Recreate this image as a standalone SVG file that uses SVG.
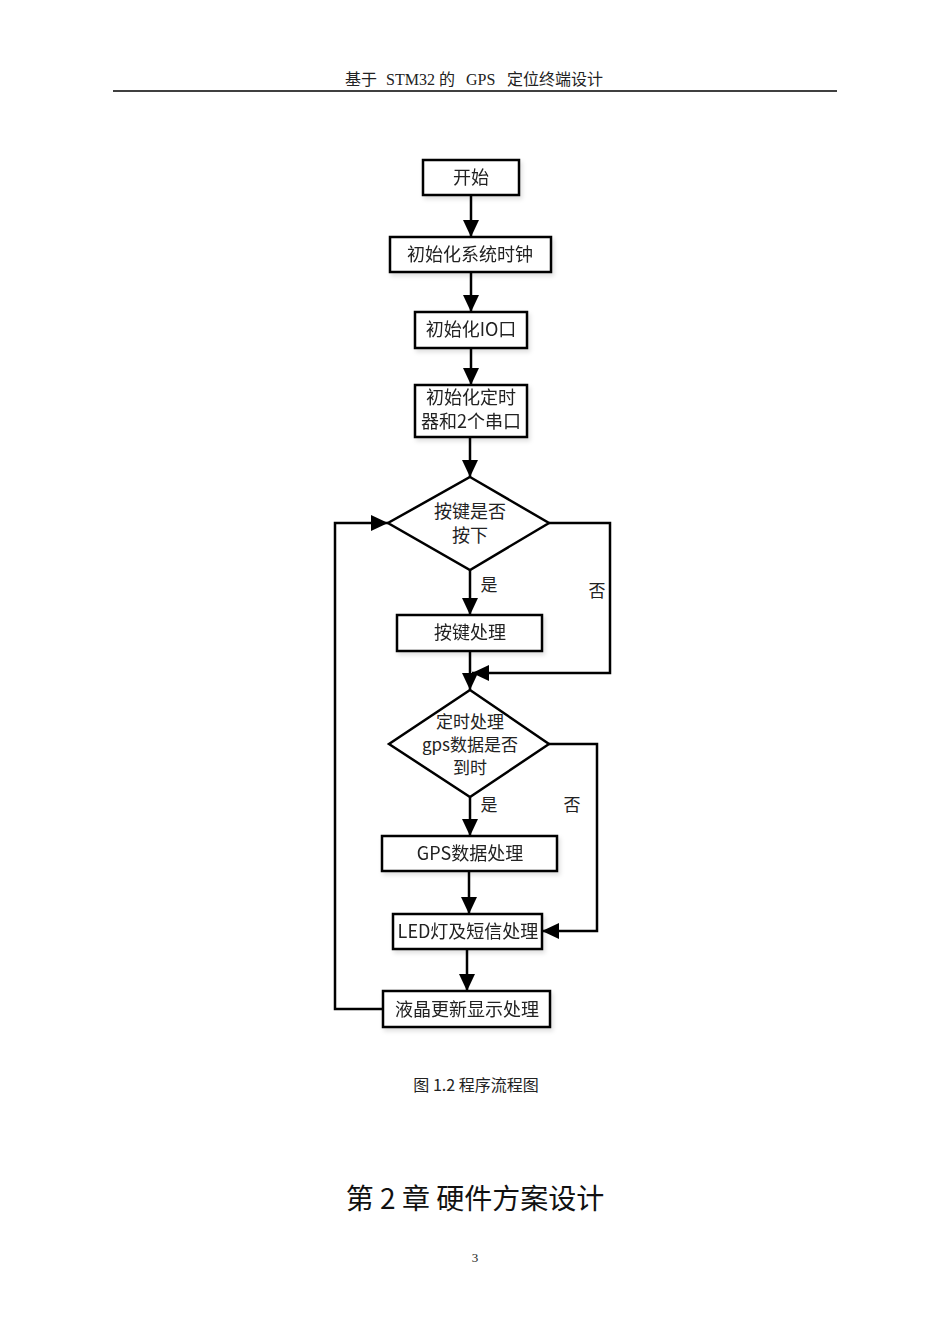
<svg xmlns="http://www.w3.org/2000/svg" width="950" height="1344" viewBox="0 0 950 1344">
<style>
.box{fill:#fff;stroke:#000;stroke-width:2.5}
.dia{fill:#fff;stroke:#000;stroke-width:2.5}
.t{font-family:"Noto Sans CJK SC","Liberation Sans",sans-serif;font-size:18px;fill:#222;text-anchor:middle}
.t2{font-family:"Noto Sans CJK SC","Liberation Sans",sans-serif;font-size:17px;fill:#222;text-anchor:middle}
.lbl{font-family:"Noto Sans CJK SC","Liberation Sans",sans-serif;font-size:17px;fill:#222;text-anchor:middle}
.c{fill:none;stroke:#000;stroke-width:2.5}
.serif{font-family:"Liberation Serif","Noto Sans CJK SC",serif;fill:#222}
</style>
<defs>
<marker id="ah" markerUnits="userSpaceOnUse" markerWidth="18" markerHeight="16" refX="17" refY="8" orient="auto">
<path d="M0,0 L17,8 L0,16 z" fill="#000"/>
</marker>
<filter id="sh" x="-10%" y="-10%" width="130%" height="140%">
<feDropShadow dx="2" dy="3" stdDeviation="2" flood-color="#000" flood-opacity="0.12"/>
</filter>
</defs>
<rect width="950" height="1344" fill="#fff"/>
<g id="header">
<text class="serif" y="85" font-size="16"><tspan x="345">基于</tspan><tspan x="386">STM32</tspan><tspan x="439">的</tspan><tspan x="466">GPS</tspan><tspan x="507">定位终端设计</tspan></text>
<line x1="113" y1="91" x2="837" y2="91" stroke="#000" stroke-width="1.5"/>
</g>
<g id="connectors">
<line class="c" x1="471" y1="195" x2="471" y2="237" marker-end="url(#ah)"/>
<line class="c" x1="471" y1="272" x2="471" y2="312" marker-end="url(#ah)"/>
<line class="c" x1="471" y1="348" x2="471" y2="385" marker-end="url(#ah)"/>
<line class="c" x1="470" y1="437" x2="470" y2="477" marker-end="url(#ah)"/>
<line class="c" x1="470" y1="570" x2="470" y2="615" marker-end="url(#ah)"/>
<line class="c" x1="470" y1="651" x2="470" y2="690" marker-end="url(#ah)"/>
<polyline class="c" points="549,523 610,523 610,673 472,673" marker-end="url(#ah)"/>
<line class="c" x1="470" y1="797" x2="470" y2="836" marker-end="url(#ah)"/>
<polyline class="c" points="549,744 597,744 597,931 542,931" marker-end="url(#ah)"/>
<line class="c" x1="469" y1="871" x2="469" y2="914" marker-end="url(#ah)"/>
<line class="c" x1="467" y1="949" x2="467" y2="991" marker-end="url(#ah)"/>
<polyline class="c" points="383,1009 335,1009 335,523 388,523" marker-end="url(#ah)"/>
<text class="lbl" x="489" y="591">是</text>
<text class="lbl" x="597" y="597">否</text>
<text class="lbl" x="489" y="811">是</text>
<text class="lbl" x="572" y="811">否</text>
</g>
<g id="start" filter="url(#sh)"><rect class="box" x="423" y="160" width="96" height="35"/><text class="t" x="471" y="184">开始</text></g>
<g id="initClock" filter="url(#sh)"><rect class="box" x="390" y="237" width="161" height="35"/><text class="t" x="470" y="261">初始化系统时钟</text></g>
<g id="initIO" filter="url(#sh)"><rect class="box" x="415" y="312" width="112" height="36"/><text class="t" x="471" y="336">初始化IO口</text></g>
<g id="initTimer" filter="url(#sh)"><rect class="box" x="415" y="385" width="112" height="52"/><text class="t" x="471" y="404">初始化定时</text><text class="t" x="471" y="428">器和2个串口</text></g>
<g id="keyPressed"><polygon class="dia" points="470,477 549,523 470,570 388,523"/><text class="t" x="470" y="518">按键是否</text><text class="t" x="470" y="542">按下</text></g>
<g id="keyProc" filter="url(#sh)"><rect class="box" x="397" y="615" width="145" height="36"/><text class="t" x="470" y="639">按键处理</text></g>
<g id="gpsTimeout"><polygon class="dia" points="470,690 549,744 470,797 389,744"/><text class="t2" x="470" y="728">定时处理</text><text class="t2" x="470" y="751">gps数据是否</text><text class="t2" x="470" y="774">到时</text></g>
<g id="gpsProc" filter="url(#sh)"><rect class="box" x="382" y="836" width="175" height="35"/><text class="t" x="470" y="860">GPS数据处理</text></g>
<g id="ledSms" filter="url(#sh)"><rect class="box" x="393" y="914" width="149" height="35"/><text class="t" x="468" y="938">LED灯及短信处理</text></g>
<g id="lcdUpdate" filter="url(#sh)"><rect class="box" x="383" y="991" width="167" height="36"/><text class="t" x="467" y="1016">液晶更新显示处理</text></g>
<g id="caption"><text class="t" x="476" y="1091" style="font-size:16px">图 1.2 程序流程图</text></g>
<g id="chapter"><text x="475" y="1209" text-anchor="middle" font-family="Noto Sans CJK SC, Liberation Sans, sans-serif" font-size="28" fill="#111">第 2 章 硬件方案设计</text></g>
<g id="page"><text class="serif" x="475" y="1262" font-size="13" text-anchor="middle">3</text></g>
</svg>
